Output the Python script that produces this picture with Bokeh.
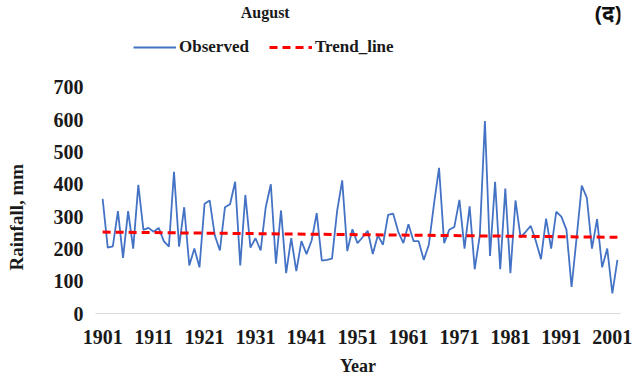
from bokeh.plotting import figure
from bokeh.models import Range1d, Legend, LegendItem, Label, FixedTicker, Title
from bokeh.embed import file_html
from bokeh.resources import INLINE

years = list(range(1901, 2003))
observed = [
    355, 204, 208, 317, 172, 317, 201, 398, 259, 265,
    253, 265, 224, 207, 439, 207, 329, 149, 201, 143,
    340, 350, 242, 195, 329, 338, 408, 149, 367, 204,
    233, 195, 329, 400, 154, 319, 125, 233, 131, 224,
    184, 226, 311, 164, 166, 170, 317, 412, 193, 261,
    218, 236, 256, 184, 242, 213, 305, 309, 253, 218,
    276, 224, 224, 166, 213, 338, 451, 218, 259, 268,
    352, 201, 332, 137, 242, 596, 178, 408, 137, 387,
    125, 350, 236, 253, 271, 224, 168, 294, 201, 315,
    300, 259, 82, 236, 396, 358, 201, 292, 143, 201,
    62, 166,
]
trend_years = [1901, 2002]
trend_values = [252, 236]
x_ticks = [1901, 1911, 1921, 1931, 1941, 1951, 1961, 1971, 1981, 1991, 2001]
y_ticks = [0, 100, 200, 300, 400, 500, 600, 700]

SERIF = "Liberation Serif"
INK = "#1a1a1a"

# frame covers the header too; the axis itself is bounded to 0..700
p = figure(width=642, height=381, output_backend="svg", toolbar_location=None,
           x_range=Range1d(1899.6, 2002.6), y_range=Range1d(0, 969),
           min_border_left=95, min_border_right=22, min_border_top=0,
           min_border_bottom=68)
p.outline_line_color = None
p.xgrid.visible = False
p.ygrid.visible = False

obs = p.line(years, observed, line_color="#4472C4", line_width=1.8)
tr = p.line(trend_years, trend_values, line_color="#FF0000", line_width=3,
            line_dash="8 5")

for ax in (p.xaxis[0], p.yaxis[0]):
    ax.major_tick_line_color = None
    ax.minor_tick_line_color = None
    ax.major_label_text_font = SERIF
    ax.major_label_text_font_style = "bold"
    ax.major_label_text_font_size = "20px"
    ax.major_label_text_color = INK
    ax.axis_label_text_font = SERIF
    ax.axis_label_text_font_style = "bold"
    ax.axis_label_text_font_size = "18px"
    ax.axis_label_text_color = INK

p.xaxis.ticker = FixedTicker(ticks=x_ticks)
p.yaxis.ticker = FixedTicker(ticks=y_ticks)
p.yaxis.bounds = (0, 700)
p.xaxis.axis_line_color = "#D9D9D9"
p.yaxis.axis_line_color = None
p.xaxis.axis_label = "Year"
p.xaxis.major_label_standoff = 10
p.yaxis.major_label_standoff = 6
p.xaxis.axis_label_standoff = 9
# blank spacer label widens the y-axis panel so the title sits at the edge
p.yaxis.axis_label = "\u00a0"
p.yaxis.axis_label_standoff = 0
p.yaxis.axis_label_text_font_size = "12px"

# y-axis title, anchored at the bottom of the 0..700 band
p.add_layout(Title(text="Rainfall, mm", align="left", offset=43,
                   text_font=SERIF, text_font_style="bold",
                   text_font_size="19px", text_color=INK,
                   vertical_align="top", standoff=10), "left")

legend = Legend(items=[LegendItem(label="Observed", renderers=[obs]),
                       LegendItem(label="Trend_line", renderers=[tr])],
                orientation="horizontal", location=(38, 256),
                label_text_font=SERIF, label_text_font_style="bold",
                label_text_font_size="17px", label_text_color=INK,
                label_standoff=3,
                border_line_color=None, background_fill_alpha=0,
                glyph_width=43, spacing=20, padding=2, margin=0)
p.add_layout(legend, "center")

p.add_layout(Label(x=1932.9, y=932, text="August", text_align="center",
                   text_baseline="middle", text_font=SERIF,
                   text_font_style="bold", text_font_size="16px",
                   text_color=INK))

p.add_layout(Label(x=2000.2, y=932, text="(द)", text_align="center",
                   text_baseline="middle", text_font="Noto Sans",
                   text_font_style="bold", text_font_size="22px",
                   text_color="#111111"))

open("out.html", "w").write(file_html(p, INLINE))
